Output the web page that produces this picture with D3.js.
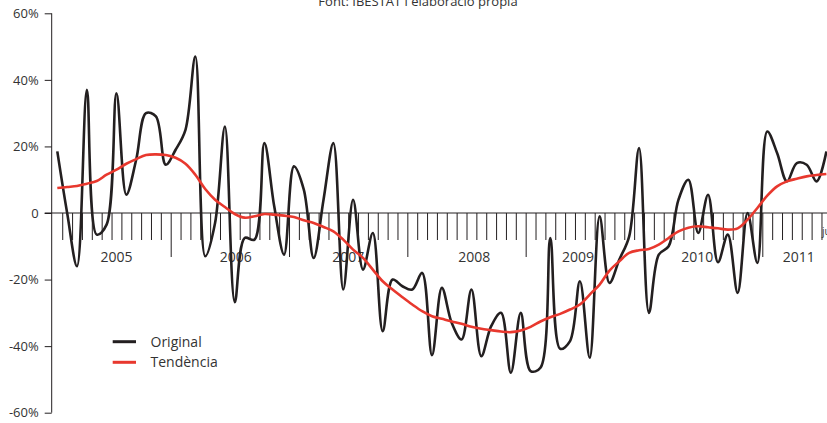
<!DOCTYPE html>
<html><head><meta charset="utf-8">
<script src="https://cdn.jsdelivr.net/npm/d3@7"></script>
<style>
html,body{margin:0;padding:0;background:#fff;overflow:hidden}
svg{display:block}
text{font-family:"Open Sans",sans-serif;fill:#333}
</style></head>
<body>
<svg id="chart" width="827" height="423"></svg>
<script>
const sourceNote = "Font: IBESTAT i elaboració pròpia";
const seriesNames = ["Original", "Tendència"];
const original = [18.5,0,-16,37,-6.5,-3.5,36,5.5,16,30,29,14.5,19,25,47,-13,-3,26,-26.8,-7.5,-8,21,2,-12.5,14,7,-13.5,4,21,-23,4,-17,-6,-35.5,-20,-22,-23,-18,-42.7,-22.5,-33,-38,-23,-43,-34,-30,-48,-30,-47.5,-46.5,-7.5,-40.8,-38.5,-20.5,-43.5,-1,-21,-14,-7,19.5,-30,-12.5,-10,4,10,-6,5.5,-14.8,-6.5,-24,0,-15,24.5,18,9.5,15,14.5,9.5,18.5];
const trend = [7.5,7.8,8.1,8.8,9.6,11.5,13,14.8,16.2,17.4,17.6,17.4,16.6,14.8,11.5,7.2,4,1.8,-0.3,-1.4,-1,-0.3,-0.5,-0.8,-1.2,-2.2,-3,-4.2,-5.5,-8,-11,-13.5,-17,-20.5,-23,-25.3,-27.5,-29.5,-31,-31.8,-32.6,-33.3,-34.2,-34.8,-35.2,-35.6,-35.8,-35.3,-34.2,-32.6,-31.3,-30.3,-29,-27.5,-24.5,-21.5,-17.3,-14.5,-12,-11.2,-10.8,-9.5,-7.5,-5.5,-4.4,-4,-4.3,-4.6,-5,-4.6,-2,1.5,5.2,8,9.5,10.3,11,11.4,11.7];
const yTicks = [-60,-40,-20,0,20,40,60];
const yTickLabels = ["-60%","-40%","-20%","0","20%","40%","60%"];
const yearLabels = ["2005","2006","2007","2008","2009","2010","2011"];
const yearLabelMonth = [6,18.1,29.5,42.3,52.8,64.9,75.2];
const yearStartTicks = [11,23,35,47,59,71];
const endMonthLabel = "juliol";

const svg = d3.select("#chart");
const n = original.length;
const x = d3.scaleLinear().domain([0, n-1]).range([57.3, 826.4]);
const y = d3.scaleLinear().domain([-60, 60]).range([412.7, 13.3]);
const axisX = 51.7;
const ink = "#231f20";

// title / source
svg.append("text").attr("x", 418).attr("y", 6).attr("text-anchor","middle")
  .style("font-size","13px").text(sourceNote);

// y axis
const yAxis = d3.axisLeft(y).tickValues(yTicks).tickSize(7).tickPadding(6)
  .tickFormat((d,i)=>yTickLabels[i]);
const gy = svg.append("g").attr("transform", `translate(${axisX},0)`).call(yAxis);
gy.select(".domain").attr("stroke", ink).attr("d", `M0,${y(60)}V${y(-60)}`);
gy.selectAll(".tick line").attr("stroke", ink);
gy.selectAll(".tick text").style("font-size","13px").style("font-family","'Open Sans',sans-serif").attr("fill","#333");

// x axis (zero line with month ticks)
const monthTicks = d3.range(n-1).map(i => i + 0.5);
const xAxis = d3.axisBottom(x).tickValues(monthTicks)
  .tickSize(0).tickFormat("");
const gx = svg.append("g").attr("transform", `translate(0,${y(0)})`).call(xAxis);
gx.select(".domain").attr("stroke", ink).attr("d", `M${axisX-7},0H827`);
gx.selectAll(".tick line")
  .attr("stroke", ink).attr("stroke-width", 1)
  .attr("y2", (d,i) => yearStartTicks.includes(i) ? 44 : 27);

// year labels
svg.append("g").selectAll("text").data(yearLabels).join("text")
  .attr("x", (d,i) => x(yearLabelMonth[i]))
  .attr("y", y(0) + 49)
  .attr("text-anchor","middle")
  .style("font-size","14px")
  .text(d => d);
svg.append("text").attr("x", x(n-1) - 4.5).attr("y", y(0) + 22)
  .style("font-size","10px").text(endMonthLabel);

// lines
const line = d3.line().x((d,i)=>x(i)).y(d=>y(d)).curve(d3.curveCatmullRom.alpha(0.5));
svg.append("path").datum(original).attr("d", line)
  .attr("fill","none").attr("stroke", ink).attr("stroke-width", 2.6)
  .attr("stroke-linejoin","round");
svg.append("path").datum(trend).attr("d", line)
  .attr("fill","none").attr("stroke", "#e8382e").attr("stroke-width", 2.6)
  .attr("stroke-linejoin","round");

// legend
const legendColors = [ink, "#e8382e"];
const lg = svg.append("g");
seriesNames.forEach((name, i) => {
  const yy = 341.7 + i * 20.6;
  lg.append("line").attr("x1", 112.7).attr("x2", 136).attr("y1", yy).attr("y2", yy)
    .attr("stroke", legendColors[i]).attr("stroke-width", 3);
  lg.append("text").attr("x", 150.5).attr("y", yy + 4.8)
    .style("font-size","14px").text(name);
});
</script>
</body></html>
